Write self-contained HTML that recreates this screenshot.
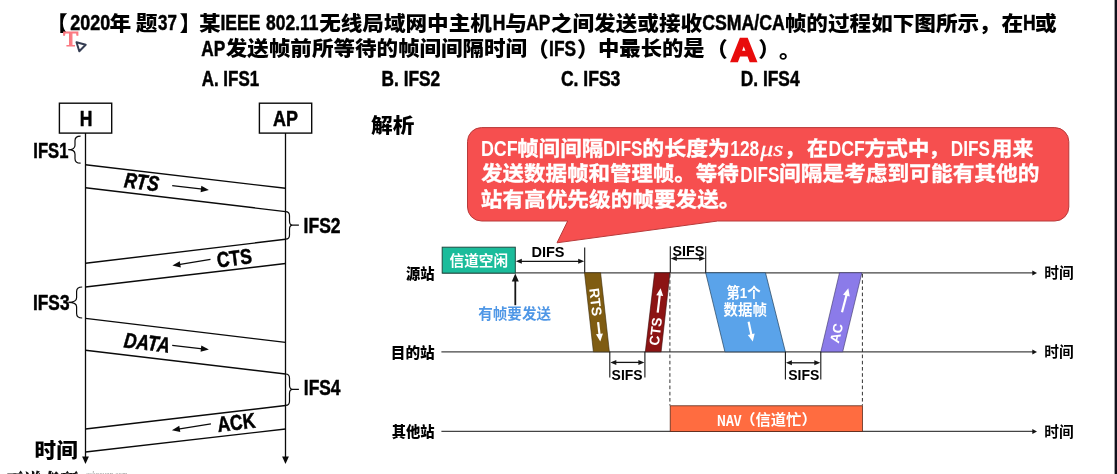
<!DOCTYPE html>
<html lang="zh-CN"><head><meta charset="utf-8"><title>CSMA/CA IFS</title>
<style>
html,body{margin:0;padding:0;background:#fff;overflow:hidden}
svg{display:block;position:absolute;left:0;top:0;will-change:transform}
text{white-space:pre}
</style></head><body>
<svg width="1117" height="474" viewBox="0 0 1117 474">
<rect x="1114.6" y="0" width="2.4" height="474" fill="#10121c"/>
<polygon points="76.5,42.2 85.7,44.7 79.3,51.2" fill="#fff" stroke="#353d52" stroke-width="2" stroke-linejoin="round"/>
<rect x="59.4" y="103.2" width="52.3" height="29.9" fill="#fff" stroke="#0a0a0a" stroke-width="1.4"/>
<rect x="259.4" y="103.2" width="52.3" height="29.9" fill="#fff" stroke="#0a0a0a" stroke-width="1.4"/>
<line x1="85.50" y1="133.10" x2="85.50" y2="458.00" stroke="#0a0a0a" stroke-width="1.3"/>
<polygon points="85.5,464 82.1,456.5 88.9,456.5" fill="#0a0a0a"/>
<line x1="285.50" y1="133.10" x2="285.50" y2="458.00" stroke="#0a0a0a" stroke-width="1.3"/>
<polygon points="285.5,464 282.1,456.5 288.9,456.5" fill="#0a0a0a"/>
<line x1="85.5" y1="164.8" x2="285.5" y2="188.3" stroke="#0a0a0a" stroke-width="1.4" />
<line x1="85.5" y1="187.7" x2="285.5" y2="211.6" stroke="#0a0a0a" stroke-width="1.4" />
<line x1="285.5" y1="239.3" x2="85.5" y2="263.3" stroke="#0a0a0a" stroke-width="1.4" />
<line x1="285.5" y1="263.5" x2="85.5" y2="287.0" stroke="#0a0a0a" stroke-width="1.4" />
<line x1="85.5" y1="318.4" x2="285.5" y2="342.4" stroke="#0a0a0a" stroke-width="1.4" />
<line x1="85.5" y1="350.3" x2="285.5" y2="374.0" stroke="#0a0a0a" stroke-width="1.4" />
<line x1="285.5" y1="405.5" x2="85.5" y2="429.0" stroke="#0a0a0a" stroke-width="1.4" />
<line x1="285.5" y1="429.0" x2="85.5" y2="452.0" stroke="#0a0a0a" stroke-width="1.4" />
<path d="M80.6,136.1 Q75.0,136.1 75.0,140.6 L75.0,145.2 Q75.0,149.7 68.2,149.7 Q75.0,149.7 75.0,154.2 L75.0,158.7 Q75.0,163.2 80.6,163.2" fill="none" stroke="#0a0a0a" stroke-width="1.2"/>
<path d="M82.2,287.0 Q76.6,287.0 76.6,291.5 L76.6,297.8 Q76.6,302.3 68.4,302.3 Q76.6,302.3 76.6,306.8 L76.6,313.5 Q76.6,318.0 82.2,318.0" fill="none" stroke="#0a0a0a" stroke-width="1.2"/>
<path d="M285.6,211.6 Q289.5,211.6 289.5,215.79999999999998 L289.5,221.0 Q289.5,225.2 292.5,225.2 L298.9,225.2 M292.5,225.2 Q289.5,225.2 289.5,229.39999999999998 L289.5,235.0 Q289.5,239.2 285.6,239.2" fill="none" stroke="#0a0a0a" stroke-width="1.2"/>
<path d="M285.6,374.0 Q289.5,374.0 289.5,378.2 L289.5,385.1 Q289.5,389.3 292.5,389.3 L298.9,389.3 M292.5,389.3 Q289.5,389.3 289.5,393.5 L289.5,401.2 Q289.5,405.4 285.6,405.4" fill="none" stroke="#0a0a0a" stroke-width="1.2"/>
<line x1="172.20" y1="185.60" x2="202.54" y2="189.16" stroke="#0a0a0a" stroke-width="1.2"/>
<polygon points="208.9,189.9 200.58,192.15 201.33,185.79" fill="#0a0a0a"/>
<line x1="210.50" y1="259.40" x2="178.72" y2="264.57" stroke="#0a0a0a" stroke-width="1.2"/>
<polygon points="172.4,265.6 179.78,261.16 180.81,267.47" fill="#0a0a0a"/>
<line x1="172.20" y1="345.40" x2="202.54" y2="348.79" stroke="#0a0a0a" stroke-width="1.2"/>
<polygon points="208.9,349.5 200.59,351.79 201.3,345.43" fill="#0a0a0a"/>
<line x1="210.90" y1="423.90" x2="178.22" y2="429.18" stroke="#0a0a0a" stroke-width="1.2"/>
<polygon points="171.9,430.2 179.29,425.77 180.31,432.08" fill="#0a0a0a"/>
<path d="M481.5,127.6 H1054.8 A14,14 0 0 1 1068.8,141.6 V207 A14,14 0 0 1 1054.8,221 H717.7 L557,242.8 L567.7,221 H481.5 A14,14 0 0 1 467.5,207 V141.6 A14,14 0 0 1 481.5,127.6 Z" fill="#f64f4f" stroke="#b83a3a" stroke-width="1"/>
<line x1="442.2" y1="272.8" x2="1033" y2="272.8" stroke="#444" stroke-width="1.25"/>
<polygon points="1037,272.90000000000003 1032.3,270.40000000000003 1032.3,275.40000000000003" fill="#111"/>
<line x1="441.4" y1="351.8" x2="1033" y2="351.8" stroke="#444" stroke-width="1.25"/>
<polygon points="1037,351.90000000000003 1032.3,349.40000000000003 1032.3,354.40000000000003" fill="#111"/>
<line x1="441.4" y1="431.3" x2="1033" y2="431.3" stroke="#444" stroke-width="1.25"/>
<polygon points="1037,431.40000000000003 1032.3,428.90000000000003 1032.3,433.90000000000003" fill="#111"/>
<rect x="442.2" y="247.2" width="73.1" height="25.9" fill="#1bbc9b" stroke="#1f4a40" stroke-width="1"/>
<line x1="520.60" y1="261.30" x2="579.40" y2="261.30" stroke="#151515" stroke-width="1.3"/>
<polygon points="584.2,261.3 578.2,263.8 578.2,258.8" fill="#151515"/>
<polygon points="515.8,261.3 521.8,263.8 521.8,258.8" fill="#151515"/>
<line x1="584.7" y1="247.4" x2="584.7" y2="272.8" stroke="#151515" stroke-width="1.1" />
<line x1="515.30" y1="305.20" x2="515.30" y2="280.00" stroke="#151515" stroke-width="1.8"/>
<polygon points="515.3,273.6 518.8,281.6 511.8,281.6" fill="#151515"/>
<polygon points="584.5,272.8 600.6,272.8 609.4,351.8 593.4,351.8" fill="#7f5c12" stroke="#3a2a08" stroke-width="0.6" stroke-linejoin="miter"/>
<polygon points="654.6,272.8 670,272.8 661.1,351.8 645.3,351.8" fill="#8c1414" stroke="#3a0808" stroke-width="0.6" stroke-linejoin="miter"/>
<polygon points="705.7,272.8 765.5,272.8 785.4,351.8 724.9,351.8" fill="#5aa3ea" stroke="#23405c" stroke-width="0.7" stroke-linejoin="miter"/>
<polygon points="839.5,272.8 861.9,272.8 842.7,351.8 820.8,351.8" fill="#8b7be9" stroke="#3a3466" stroke-width="0.6" stroke-linejoin="miter"/>
<line x1="670.3" y1="246.2" x2="670.3" y2="272.8" stroke="#151515" stroke-width="1.1" />
<line x1="705.7" y1="246.2" x2="705.7" y2="272.8" stroke="#151515" stroke-width="1.1" />
<line x1="675.60" y1="258.60" x2="700.40" y2="258.60" stroke="#151515" stroke-width="1.3"/>
<polygon points="705.2,258.6 699.2,261.1 699.2,256.1" fill="#151515"/>
<polygon points="670.8,258.6 676.8,261.1 676.8,256.1" fill="#151515"/>
<line x1="609.8" y1="351.8" x2="609.8" y2="377.4" stroke="#151515" stroke-width="1.1" />
<line x1="644.9" y1="351.8" x2="644.9" y2="377.4" stroke="#151515" stroke-width="1.1" />
<line x1="615.10" y1="362.40" x2="639.60" y2="362.40" stroke="#151515" stroke-width="1.3"/>
<polygon points="644.4,362.4 638.4,364.9 638.4,359.9" fill="#151515"/>
<polygon points="610.3,362.4 616.3,364.9 616.3,359.9" fill="#151515"/>
<line x1="785.4" y1="351.8" x2="785.4" y2="379.6" stroke="#151515" stroke-width="1.1" />
<line x1="820.8" y1="351.8" x2="820.8" y2="379.6" stroke="#151515" stroke-width="1.1" />
<line x1="790.70" y1="362.80" x2="815.50" y2="362.80" stroke="#151515" stroke-width="1.3"/>
<polygon points="820.3,362.8 814.3,365.3 814.3,360.3" fill="#151515"/>
<polygon points="785.9,362.8 791.9,365.3 791.9,360.3" fill="#151515"/>
<line x1="669.9" y1="274" x2="669.9" y2="405.5" stroke="#333" stroke-width="1" stroke-dasharray="3.6 2.6"/>
<line x1="862.4" y1="274" x2="862.4" y2="405.5" stroke="#333" stroke-width="1" stroke-dasharray="3.6 2.6"/>
<rect x="670.2" y="405.8" width="192.2" height="25.6" fill="#ff6c40" stroke="#5a2a1a" stroke-width="0.8"/>
<line x1="598.10" y1="322.20" x2="599.62" y2="335.44" stroke="#fff" stroke-width="2.2"/>
<polygon points="600.3,341.4 595.97,334.35 602.92,333.55" fill="#fff"/>
<line x1="657.70" y1="312.70" x2="659.89" y2="294.16" stroke="#fff" stroke-width="2.2"/>
<polygon points="660.6,288.2 663.19,296.06 656.24,295.24" fill="#fff"/>
<line x1="748.60" y1="321.70" x2="751.55" y2="335.63" stroke="#fff" stroke-width="2.2"/>
<polygon points="752.8,341.5 747.82,334.89 754.67,333.44" fill="#fff"/>
<line x1="842.00" y1="312.20" x2="846.77" y2="294.10" stroke="#fff" stroke-width="2.2"/>
<polygon points="848.3,288.3 849.77,296.44 843.0,294.66" fill="#fff"/>
<text transform="translate(45.94,31.00) scale(1.0440,1)" style="font:900 20.8px 'Liberation Sans','Noto Sans CJK SC',sans-serif" fill="#000">【</text>
<text transform="translate(70.35,29.90) scale(0.8396,1)" style="font:700 21.4px 'Liberation Sans','Noto Sans CJK SC',sans-serif" fill="#000" stroke="#000" stroke-width="0.5" stroke-linejoin="miter">2020</text>
<text transform="translate(109.46,30.60) scale(1.0440,1)" style="font:900 20.8px 'Liberation Sans','Noto Sans CJK SC',sans-serif" fill="#000">年</text>
<text transform="translate(135.66,30.60) scale(1.0440,1)" style="font:900 20.8px 'Liberation Sans','Noto Sans CJK SC',sans-serif" fill="#000">题</text>
<text transform="translate(158.03,29.90) scale(0.7922,1)" style="font:700 21.4px 'Liberation Sans','Noto Sans CJK SC',sans-serif" fill="#000" stroke="#000" stroke-width="0.5" stroke-linejoin="miter">37</text>
<text transform="translate(179.40,31.00) scale(1.0440,1)" style="font:900 20.8px 'Liberation Sans','Noto Sans CJK SC',sans-serif" fill="#000">】</text>
<text transform="translate(198.89,30.60) scale(1.0440,1)" style="font:900 20.8px 'Liberation Sans','Noto Sans CJK SC',sans-serif" fill="#000">某</text>
<text transform="translate(220.41,29.90) scale(0.8213,1)" style="font:700 21.4px 'Liberation Sans','Noto Sans CJK SC',sans-serif" fill="#000" stroke="#000" stroke-width="0.5" stroke-linejoin="miter">IEEE</text>
<text transform="translate(266.06,29.90) scale(0.8164,1)" style="font:700 21.4px 'Liberation Sans','Noto Sans CJK SC',sans-serif" fill="#000" stroke="#000" stroke-width="0.5" stroke-linejoin="miter">802.11</text>
<text transform="translate(319.16,30.60) scale(1.0387,1)" style="font:900 20.8px 'Liberation Sans','Noto Sans CJK SC',sans-serif" fill="#000">无线局域网中主机</text>
<text transform="translate(492.64,29.90) scale(0.8200,1)" style="font:700 21.4px 'Liberation Sans','Noto Sans CJK SC',sans-serif" fill="#000" stroke="#000" stroke-width="0.5" stroke-linejoin="miter">H</text>
<text transform="translate(505.28,30.60) scale(1.0440,1)" style="font:900 20.8px 'Liberation Sans','Noto Sans CJK SC',sans-serif" fill="#000">与</text>
<text transform="translate(526.33,29.90) scale(0.8115,1)" style="font:700 21.4px 'Liberation Sans','Noto Sans CJK SC',sans-serif" fill="#000" stroke="#000" stroke-width="0.5" stroke-linejoin="miter">AP</text>
<text transform="translate(550.82,30.60) scale(1.0399,1)" style="font:900 20.8px 'Liberation Sans','Noto Sans CJK SC',sans-serif" fill="#000">之间发送或接收</text>
<text transform="translate(702.15,29.90) scale(0.8279,1)" style="font:700 21.4px 'Liberation Sans','Noto Sans CJK SC',sans-serif" fill="#000" stroke="#000" stroke-width="0.5" stroke-linejoin="miter">CSMA/CA</text>
<text transform="translate(784.69,30.60) scale(1.0395,1)" style="font:900 20.8px 'Liberation Sans','Noto Sans CJK SC',sans-serif" fill="#000">帧的过程如下图所示</text>
<text transform="translate(978.38,30.60) scale(1.0440,1)" style="font:900 20.8px 'Liberation Sans','Noto Sans CJK SC',sans-serif" fill="#000">，</text>
<text transform="translate(1001.40,30.60) scale(1.0440,1)" style="font:900 20.8px 'Liberation Sans','Noto Sans CJK SC',sans-serif" fill="#000">在</text>
<text transform="translate(1023.04,29.90) scale(0.8200,1)" style="font:700 21.4px 'Liberation Sans','Noto Sans CJK SC',sans-serif" fill="#000" stroke="#000" stroke-width="0.5" stroke-linejoin="miter">H</text>
<text transform="translate(1034.97,30.60) scale(1.0440,1)" style="font:900 20.8px 'Liberation Sans','Noto Sans CJK SC',sans-serif" fill="#000">或</text>
<text transform="translate(201.23,55.60) scale(0.8081,1)" style="font:700 21.4px 'Liberation Sans','Noto Sans CJK SC',sans-serif" fill="#000" stroke="#000" stroke-width="0.5" stroke-linejoin="miter">AP</text>
<text transform="translate(225.80,56.30) scale(1.0357,1)" style="font:900 20.8px 'Liberation Sans','Noto Sans CJK SC',sans-serif" fill="#000">发送帧前所等待的帧间间隔时间</text>
<text transform="translate(527.03,57.30) scale(1.0440,1)" style="font:900 20.8px 'Liberation Sans','Noto Sans CJK SC',sans-serif" fill="#000">（</text>
<text transform="translate(549.12,55.60) scale(0.8090,1)" style="font:700 21.4px 'Liberation Sans','Noto Sans CJK SC',sans-serif" fill="#000" stroke="#000" stroke-width="0.5" stroke-linejoin="miter">IFS</text>
<text transform="translate(577.06,57.30) scale(1.0440,1)" style="font:900 20.8px 'Liberation Sans','Noto Sans CJK SC',sans-serif" fill="#000">）</text>
<text transform="translate(597.93,56.30) scale(1.0269,1)" style="font:900 20.8px 'Liberation Sans','Noto Sans CJK SC',sans-serif" fill="#000">中最长的是</text>
<text transform="translate(705.88,57.30) scale(1.0440,1)" style="font:900 20.8px 'Liberation Sans','Noto Sans CJK SC',sans-serif" fill="#000">（</text>
<text transform="translate(758.16,57.30) scale(1.0440,1)" style="font:900 20.8px 'Liberation Sans','Noto Sans CJK SC',sans-serif" fill="#000">）</text>
<text transform="translate(778.96,57.60) scale(1.0440,1)" style="font:900 20.8px 'Liberation Sans','Noto Sans CJK SC',sans-serif" fill="#000">。</text>
<text transform="translate(201.73,85.60) scale(0.7912,1)" style="font:700 21.4px 'Liberation Sans','Noto Sans CJK SC',sans-serif" fill="#000" stroke="#000" stroke-width="0.5" stroke-linejoin="miter">A. IFS1</text>
<text transform="translate(381.62,85.60) scale(0.8079,1)" style="font:700 21.4px 'Liberation Sans','Noto Sans CJK SC',sans-serif" fill="#000" stroke="#000" stroke-width="0.5" stroke-linejoin="miter">B. IFS2</text>
<text transform="translate(560.96,85.60) scale(0.8199,1)" style="font:700 21.4px 'Liberation Sans','Noto Sans CJK SC',sans-serif" fill="#000" stroke="#000" stroke-width="0.5" stroke-linejoin="miter">C. IFS3</text>
<text transform="translate(740.82,85.60) scale(0.8102,1)" style="font:700 21.4px 'Liberation Sans','Noto Sans CJK SC',sans-serif" fill="#000" stroke="#000" stroke-width="0.5" stroke-linejoin="miter">D. IFS4</text>
<text transform="translate(731.12,60.55) scale(1.1070,1)" style="font:700 32px 'Liberation Sans','Noto Sans CJK SC',sans-serif" fill="#e80c0c" stroke="#e80c0c" stroke-width="2.3" stroke-linejoin="miter">A</text>
<text transform="translate(63.19,45.55) scale(1.1405,1)" style="font:400 21.5px 'Liberation Serif',serif" fill="#fb7a82" stroke="#fb7a82" stroke-width="1.0" stroke-linejoin="miter">T</text>
<text transform="translate(79.79,125.60) scale(0.8200,1)" style="font:700 21.4px 'Liberation Sans','Noto Sans CJK SC',sans-serif" fill="#000" stroke="#000" stroke-width="0.5" stroke-linejoin="miter">H</text>
<text transform="translate(273.03,125.60) scale(0.8387,1)" style="font:700 21.4px 'Liberation Sans','Noto Sans CJK SC',sans-serif" fill="#000" stroke="#000" stroke-width="0.5" stroke-linejoin="miter">AP</text>
<text transform="translate(33.36,158.30) scale(0.7759,1)" style="font:700 21.4px 'Liberation Sans','Noto Sans CJK SC',sans-serif" fill="#000" stroke="#000" stroke-width="0.5" stroke-linejoin="miter">IFS1</text>
<text transform="translate(303.61,232.80) scale(0.8169,1)" style="font:700 21.4px 'Liberation Sans','Noto Sans CJK SC',sans-serif" fill="#000" stroke="#000" stroke-width="0.5" stroke-linejoin="miter">IFS2</text>
<text transform="translate(33.02,310.20) scale(0.8078,1)" style="font:700 21.4px 'Liberation Sans','Noto Sans CJK SC',sans-serif" fill="#000" stroke="#000" stroke-width="0.5" stroke-linejoin="miter">IFS3</text>
<text transform="translate(303.82,395.30) scale(0.8114,1)" style="font:700 21.4px 'Liberation Sans','Noto Sans CJK SC',sans-serif" fill="#000" stroke="#000" stroke-width="0.5" stroke-linejoin="miter">IFS4</text>
<text transform="translate(34.59,458.36) scale(1.0569,1)" style="font:900 20.4px 'Liberation Sans','Noto Sans CJK SC',sans-serif" fill="#000">时间</text>
<text transform="translate(141.80,182.00) rotate(6.7) translate(-17.57,7.36) scale(0.8200,1)" style="font:italic 700 21.4px 'Liberation Sans','Noto Sans CJK SC',sans-serif" fill="#000" stroke="#000" stroke-width="0.5" stroke-linejoin="miter">RTS</text>
<text transform="translate(234.40,258.00) rotate(-6.8) translate(-17.59,7.36) scale(0.8200,1)" style="font:700 21.4px 'Liberation Sans','Noto Sans CJK SC',sans-serif" fill="#000" stroke="#000" stroke-width="0.5" stroke-linejoin="miter">CTS</text>
<text transform="translate(146.60,342.40) rotate(6.9) translate(-22.62,7.52) scale(0.8200,1)" style="font:italic 700 21.4px 'Liberation Sans','Noto Sans CJK SC',sans-serif" fill="#000" stroke="#000" stroke-width="0.5" stroke-linejoin="miter">DATA</text>
<text transform="translate(236.40,422.40) rotate(-6.7) translate(-19.12,7.36) scale(0.8200,1)" style="font:700 21.4px 'Liberation Sans','Noto Sans CJK SC',sans-serif" fill="#000" stroke="#000" stroke-width="0.5" stroke-linejoin="miter">ACK</text>
<text transform="translate(371.00,133.10) scale(1.0622,1)" style="font:900 20.4px 'Liberation Sans','Noto Sans CJK SC',sans-serif" fill="#000">解析</text>
<text transform="translate(480.88,156.20) scale(0.8368,1)" style="font:700 21.4px 'Liberation Sans','Noto Sans CJK SC',sans-serif" fill="#fff">DCF</text>
<text transform="translate(516.93,155.70) scale(1.0392,1)" style="font:700 20.8px 'Liberation Sans','Noto Sans CJK SC',sans-serif" fill="#fff" stroke="#fff" stroke-width="0.35" stroke-linejoin="miter">帧间间隔</text>
<text transform="translate(603.01,156.20) scale(0.8133,1)" style="font:700 21.4px 'Liberation Sans','Noto Sans CJK SC',sans-serif" fill="#fff">DIFS</text>
<text transform="translate(642.31,155.70) scale(1.0543,1)" style="font:700 20.8px 'Liberation Sans','Noto Sans CJK SC',sans-serif" fill="#fff" stroke="#fff" stroke-width="0.35" stroke-linejoin="miter">的长度为</text>
<text transform="translate(730.21,156.20) scale(0.8128,1)" style="font:700 21.4px 'Liberation Sans','Noto Sans CJK SC',sans-serif" fill="#fff">128</text>
<text transform="translate(760.19,156.20) scale(1.2459,1)" style="font:italic 400 20.8px 'Liberation Serif',serif" fill="#fff" stroke="#fff" stroke-width="0.3" stroke-linejoin="miter">μs</text>
<text transform="translate(784.35,155.70) scale(1.0000,1)" style="font:700 20.8px 'Liberation Sans','Noto Sans CJK SC',sans-serif" fill="#fff" stroke="#fff" stroke-width="0.35" stroke-linejoin="miter">，</text>
<text transform="translate(807.07,155.70) scale(1.0000,1)" style="font:700 20.8px 'Liberation Sans','Noto Sans CJK SC',sans-serif" fill="#fff" stroke="#fff" stroke-width="0.35" stroke-linejoin="miter">在</text>
<text transform="translate(828.40,156.20) scale(0.8249,1)" style="font:700 21.4px 'Liberation Sans','Noto Sans CJK SC',sans-serif" fill="#fff">DCF</text>
<text transform="translate(864.40,155.70) scale(1.0434,1)" style="font:700 20.8px 'Liberation Sans','Noto Sans CJK SC',sans-serif" fill="#fff" stroke="#fff" stroke-width="0.35" stroke-linejoin="miter">方式中</text>
<text transform="translate(928.45,155.70) scale(1.0000,1)" style="font:700 20.8px 'Liberation Sans','Noto Sans CJK SC',sans-serif" fill="#fff" stroke="#fff" stroke-width="0.35" stroke-linejoin="miter">，</text>
<text transform="translate(950.73,156.20) scale(0.8027,1)" style="font:700 21.4px 'Liberation Sans','Noto Sans CJK SC',sans-serif" fill="#fff">DIFS</text>
<text transform="translate(991.45,155.70) scale(1.0073,1)" style="font:700 20.8px 'Liberation Sans','Noto Sans CJK SC',sans-serif" fill="#fff" stroke="#fff" stroke-width="0.35" stroke-linejoin="miter">用来</text>
<text transform="translate(481.15,181.45) scale(1.0329,1)" style="font:700 20.8px 'Liberation Sans','Noto Sans CJK SC',sans-serif" fill="#fff" stroke="#fff" stroke-width="0.35" stroke-linejoin="miter">发送数据帧和管理帧。等待</text>
<text transform="translate(740.23,181.95) scale(0.8027,1)" style="font:700 21.4px 'Liberation Sans','Noto Sans CJK SC',sans-serif" fill="#fff">DIFS</text>
<text transform="translate(779.03,181.45) scale(1.0441,1)" style="font:700 20.8px 'Liberation Sans','Noto Sans CJK SC',sans-serif" fill="#fff" stroke="#fff" stroke-width="0.35" stroke-linejoin="miter">间隔是考虑到可能有其他的</text>
<text transform="translate(480.81,207.20) scale(1.0408,1)" style="font:700 20.8px 'Liberation Sans','Noto Sans CJK SC',sans-serif" fill="#fff" stroke="#fff" stroke-width="0.35" stroke-linejoin="miter">站有高优先级的帧要发送。</text>
<text transform="translate(406.08,278.54) scale(0.9843,1)" style="font:900 14.5px 'Liberation Sans','Noto Sans CJK SC',sans-serif" fill="#000">源站</text>
<text transform="translate(390.77,357.69) scale(1.0082,1)" style="font:900 14.5px 'Liberation Sans','Noto Sans CJK SC',sans-serif" fill="#000">目的站</text>
<text transform="translate(391.75,437.19) scale(0.9855,1)" style="font:900 14.5px 'Liberation Sans','Noto Sans CJK SC',sans-serif" fill="#000">其他站</text>
<text transform="translate(449.47,266.00) scale(1.0129,1)" style="font:700 14.5px 'Liberation Sans','Noto Sans CJK SC',sans-serif" fill="#fff">信道空闲</text>
<text transform="translate(478.27,319.39) scale(1.0049,1)" style="font:700 14.5px 'Liberation Sans','Noto Sans CJK SC',sans-serif" fill="#4f97e6">有帧要发送</text>
<text transform="translate(531.49,257.00) scale(1.0377,1)" style="font:700 14px 'Liberation Sans','Noto Sans CJK SC',sans-serif" fill="#000">DIFS</text>
<text transform="translate(672.58,256.20) scale(1.0220,1)" style="font:700 14px 'Liberation Sans','Noto Sans CJK SC',sans-serif" fill="#000">SIFS</text>
<text transform="translate(611.58,380.20) scale(0.9958,1)" style="font:700 14px 'Liberation Sans','Noto Sans CJK SC',sans-serif" fill="#000">SIFS</text>
<text transform="translate(788.18,380.20) scale(1.0023,1)" style="font:700 14px 'Liberation Sans','Noto Sans CJK SC',sans-serif" fill="#000">SIFS</text>
<text transform="translate(726.48,298.15) scale(0.9235,1)" style="font:700 14.5px 'Liberation Sans','Noto Sans CJK SC',sans-serif" fill="#fff">第1个</text>
<text transform="translate(723.47,315.39) scale(0.9989,1)" style="font:700 14.5px 'Liberation Sans','Noto Sans CJK SC',sans-serif" fill="#fff">数据帧</text>
<text transform="translate(716.73,425.84) scale(0.8558,1)" style="font:700 14.5px 'Noto Sans CJK SC','Liberation Sans',sans-serif" fill="#fff">NAV</text>
<text transform="translate(740.26,424.75) scale(1.0548,1)" style="font:700 14.5px 'Liberation Sans','Noto Sans CJK SC',sans-serif" fill="#fff">（信道忙）</text>
<text transform="translate(1044.28,278.44) scale(1.0177,1)" style="font:700 14.5px 'Liberation Sans','Noto Sans CJK SC',sans-serif" fill="#000">时间</text>
<text transform="translate(1044.28,357.44) scale(1.0177,1)" style="font:700 14.5px 'Liberation Sans','Noto Sans CJK SC',sans-serif" fill="#000">时间</text>
<text transform="translate(1044.28,436.94) scale(1.0177,1)" style="font:700 14.5px 'Liberation Sans','Noto Sans CJK SC',sans-serif" fill="#000">时间</text>
<text transform="translate(595.60,302.30) rotate(83.5) translate(-14.25,4.81) scale(1.0000,1)" style="font:700 14px 'Liberation Sans','Noto Sans CJK SC',sans-serif" fill="#fff">RTS</text>
<text transform="translate(655.60,331.40) rotate(-83.4) translate(-14.03,4.81) scale(1.0000,1)" style="font:700 14px 'Liberation Sans','Noto Sans CJK SC',sans-serif" fill="#fff">CTS</text>
<text transform="translate(836.60,333.30) rotate(-76.5) translate(-9.73,4.64) scale(1.0000,1)" style="font:700 13.5px 'Liberation Sans','Noto Sans CJK SC',sans-serif" fill="#fff">AC</text>
<text transform="translate(2.43,491.50) scale(0.7273,1)" style="font:italic 900 25px 'Liberation Serif','Noto Serif CJK SC',serif" fill="#111">王道考研</text>
<text transform="translate(85.80,476.50) scale(0.8179,1)" style="font:italic 400 9px 'Liberation Serif',serif" fill="#999">cskaoyan.com</text>
</svg>
</body></html>
